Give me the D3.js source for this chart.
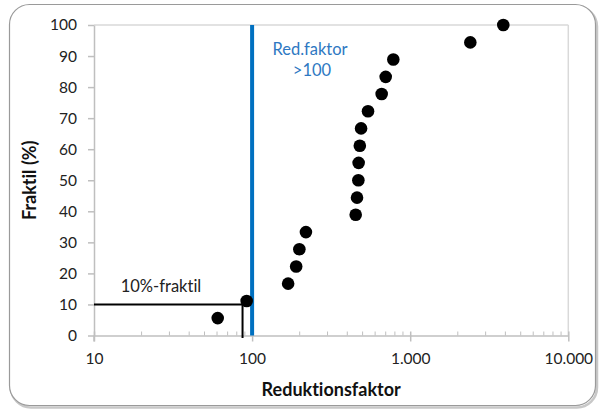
<!DOCTYPE html>
<html><head><meta charset="utf-8">
<script src="https://cdn.jsdelivr.net/npm/d3@7"></script>
<style>
html,body{margin:0;padding:0;background:#fff;}
svg{display:block;}
text{font-family:Lato, "Noto Sans", sans-serif;font-variant-ligatures:none;font-feature-settings:"liga" 0,"clig" 0;}
</style></head>
<body>
<svg id="c" width="600" height="409"></svg>
<script>
// Data
const reduktionsfaktor = [60.6, 92.4, 169, 190, 199, 219, 452, 461, 470, 472, 480, 489, 541, 660, 700, 782, 2400, 3880];
const fraktil = [5.6, 11.1, 16.7, 22.2, 27.8, 33.3, 38.9, 44.4, 50.0, 55.6, 61.1, 66.7, 72.2, 77.8, 83.3, 88.9, 94.4, 100.0];
const xTicks = [10, 100, 1000, 10000];
const xTickLabels = ["10", "100", "1.000", "10.000"];
const yTicks = [0, 10, 20, 30, 40, 50, 60, 70, 80, 90, 100];
const redFaktorLimit = 100;
const fraktil10 = {x: 87, y: 10};

const svg = d3.select("#c");
const L = 94, R = 568.3, T = 25, B = 335.5;
const x = d3.scaleLog().domain([10, 10000]).range([L, R]);
const y = d3.scaleLinear().domain([0, 100]).range([B, T]);

// outer frame with shadow
svg.append("rect").attr("x", 11).attr("y", 6.5).attr("width", 586).attr("height", 401)
  .attr("rx", 20).attr("fill", "none").attr("stroke", "#c8c8c8").attr("stroke-width", 2.5);
svg.append("rect").attr("x", 9.5).attr("y", 4.5).attr("width", 586).attr("height", 401)
  .attr("rx", 20).attr("fill", "#fff").attr("stroke", "#9a9a9a").attr("stroke-width", 1.2);

// plot border (top and right)
svg.append("line").attr("x1", L).attr("x2", R).attr("y1", T).attr("y2", T).attr("stroke", "#d9d9d9").attr("stroke-width", 1.5);
svg.append("line").attr("x1", R).attr("x2", R).attr("y1", T).attr("y2", B).attr("stroke", "#d9d9d9").attr("stroke-width", 1.5);

// minor x ticks (inside)
const minor = [];
for (let d = 10; d < 10000; d *= 10) for (let k = 2; k <= 9; k++) minor.push(d * k);
svg.append("g").selectAll("line").data(minor).join("line")
  .attr("x1", d => x(d)).attr("x2", d => x(d)).attr("y1", B).attr("y2", B - 4)
  .attr("stroke", "#bfbfbf").attr("stroke-width", 1);

// x axis
const xAxis = d3.axisBottom(x).tickValues(xTicks).tickFormat((d, i) => xTickLabels[i]).tickSize(6).tickSizeOuter(0).tickPadding(11);
const gx = svg.append("g").attr("transform", `translate(0,${B})`).call(xAxis);
gx.select(".domain").attr("stroke", "#bfbfbf").attr("stroke-width", 1.5);
gx.selectAll(".tick line").attr("stroke", "#bfbfbf").attr("stroke-width", 1.5).attr("y1", -4);
gx.selectAll(".tick text").attr("font-size", 15.5).attr("fill", "#222").attr("font-family", "Lato");

// y axis
const yAxis = d3.axisLeft(y).tickValues(yTicks).tickSize(6).tickSizeOuter(0).tickPadding(11);
const gy = svg.append("g").attr("transform", `translate(${L},0)`).call(yAxis);
gy.select(".domain").attr("stroke", "#bfbfbf").attr("stroke-width", 1.5);
gy.selectAll(".tick line").attr("stroke", "#bfbfbf").attr("stroke-width", 1.5);
gy.selectAll(".tick text").attr("font-size", 15.5).attr("fill", "#222").attr("font-family", "Lato");
// extend y axis below x axis
svg.append("line").attr("x1", L).attr("x2", L).attr("y1", B).attr("y2", B + 6).attr("stroke", "#bfbfbf").attr("stroke-width", 1.5);

// 10%-fraktil lines
svg.append("line").attr("x1", x(10)).attr("x2", x(fraktil10.x)).attr("y1", y(fraktil10.y)).attr("y2", y(fraktil10.y))
  .attr("stroke", "#000").attr("stroke-width", 2);
svg.append("line").attr("x1", x(fraktil10.x)).attr("x2", x(fraktil10.x)).attr("y1", y(fraktil10.y)).attr("y2", y(0) + 2.5)
  .attr("stroke", "#000").attr("stroke-width", 2);

// blue limit line
svg.append("line").attr("x1", x(redFaktorLimit)).attr("x2", x(redFaktorLimit)).attr("y1", y(100)).attr("y2", y(0))
  .attr("stroke", "#0070C0").attr("stroke-width", 4);

// points
svg.append("g").selectAll("circle").data(reduktionsfaktor.map((v, i) => [v, fraktil[i]])).join("circle")
  .attr("cx", d => x(d[0])).attr("cy", d => y(d[1])).attr("r", 6.3).attr("fill", "#000");

// annotations
svg.append("text").attr("x", 161).attr("y", 291.5).attr("text-anchor", "middle").attr("font-size", 16.5).attr("fill", "#222").text("10%-fraktil");
svg.append("text").attr("x", 310).attr("y", 55).attr("text-anchor", "middle").attr("font-size", 16.5).attr("fill", "#2E78C2").text("Red.faktor");
svg.append("text").attr("x", 312).attr("y", 76).attr("text-anchor", "middle").attr("font-size", 16.5).attr("fill", "#2E78C2").text(">100");

// axis titles
svg.append("text").attr("x", (L + R) / 2).attr("y", 396).attr("text-anchor", "middle").attr("font-size", 18).attr("font-weight", "bold").attr("fill", "#111").text("Reduktionsfaktor");
svg.append("text").attr("transform", `translate(36,${(T + B) / 2}) rotate(-90)`).attr("text-anchor", "middle").attr("font-size", 18).attr("font-weight", "bold").attr("fill", "#111").text("Fraktil (%)");
</script>
</body></html>
